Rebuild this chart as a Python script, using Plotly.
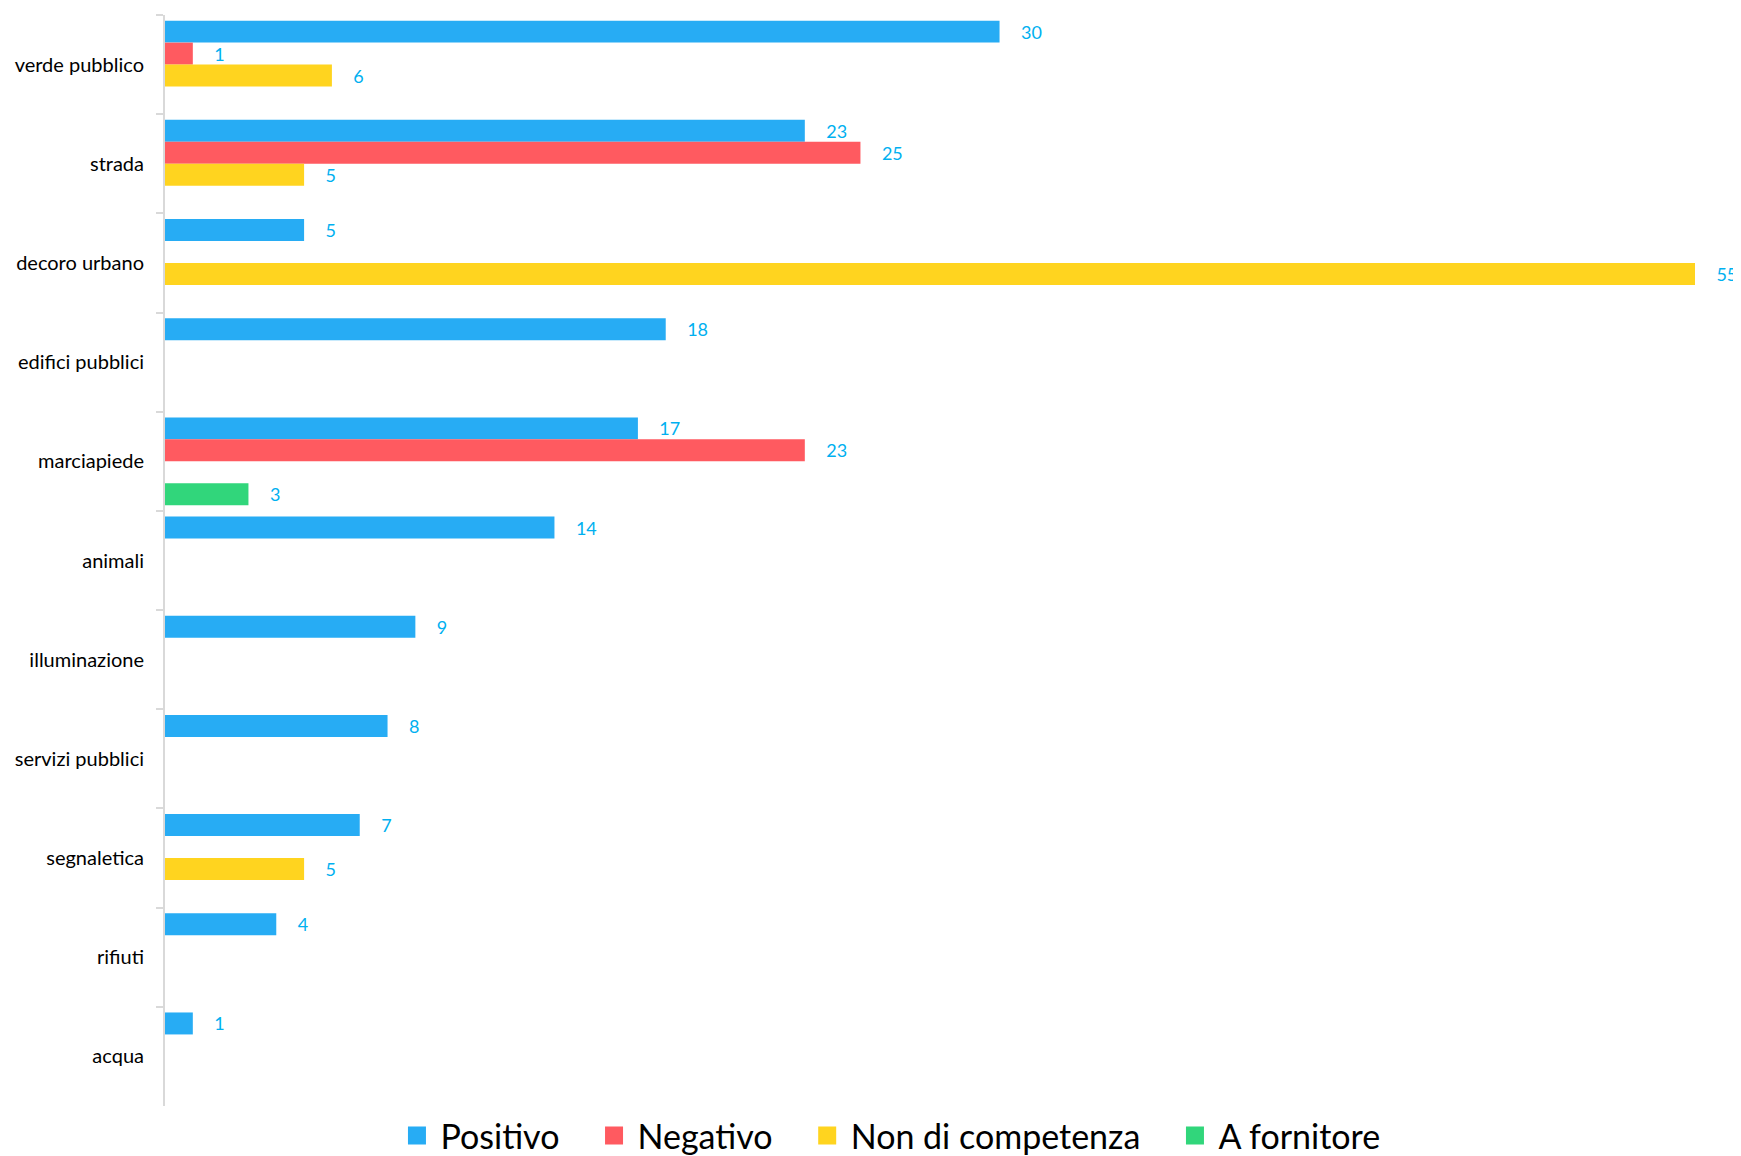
import plotly.graph_objects as go

# categorie (dall'alto verso il basso)
categories = ['verde pubblico', 'strada', 'decoro urbano', 'edifici pubblici', 'marciapiede',
              'animali', 'illuminazione', 'servizi pubblici', 'segnaletica', 'rifiuti', 'acqua']

positivo = [30, 23, 5, 18, 17, 14, 9, 8, 7, 4, 1]
negativo = [1, 25, None, None, 23, None, None, None, None, None, None]
non_competenza = [6, 5, 55, None, None, None, None, None, 5, None, None]
a_fornitore = [None, None, None, None, 3, None, None, None, None, None, None]

series = [
    ('Positivo', positivo, '#27ACF4'),
    ('Negativo', negativo, '#FF5A60'),
    ('Non di competenza', non_competenza, '#FFD41F'),
    ('A fornitore', a_fornitore, '#31D67B'),
]

fig = go.Figure()

for name, vals, color in series:
    labels = ['' if v is None else '\u00a0\u00a0\u00a0\u00a0' + str(v) for v in vals]
    fig.add_trace(go.Bar(
        y=categories,
        x=vals,
        name=name,
        legendgroup=name,
        showlegend=False,
        orientation='h',
        marker=dict(color=color, line=dict(width=0)),
        text=labels,
        textposition='outside',
        constraintext='none',
        cliponaxis=False,
        outsidetextfont=dict(family='Lato', size=18, color='#00B0F0'),
    ))

# voci di legenda con quadratini più grandi
for name, vals, color in series:
    fig.add_trace(go.Scatter(
        x=[None], y=[None],
        mode='markers',
        name=name + '\u00a0\u00a0\u00a0',
        legendgroup=name,
        marker=dict(symbol='square', size=16, color=color,
                    line=dict(color=color, width=2)),
    ))

# la pagina ha un margine di 8px: figura spostata di conseguenza
fig.update_layout(
    barmode='group',
    bargap=0.114,
    bargroupgap=0,
    width=1733,
    height=1170,
    plot_bgcolor='white',
    paper_bgcolor='white',
    font=dict(family='Lato', color='#000000'),
    margin=dict(l=155, r=46, t=7, b=72),
    xaxis=dict(
        range=[0, 55],
        visible=False,
        showgrid=False,
        zeroline=False,
    ),
    yaxis=dict(
        range=[10.5, -0.5],
        tickson='boundaries',
        ticks='outside',
        ticklen=7,
        tickwidth=2,
        tickcolor='#D9D9D9',
        showline=True,
        linecolor='#D9D9D9',
        linewidth=2,
        showgrid=False,
        ticklabelstandoff=15,
        tickfont=dict(family='Lato', size=20, color='#000000'),
    ),
    legend=dict(
        orientation='h',
        x=0.482,
        xanchor='center',
        y=-0.0275,
        yanchor='middle',
        itemwidth=37,
        font=dict(family='Lato', size=34, color='#000000'),
        traceorder='normal',
    ),
)

fig.write_html("out.html")
